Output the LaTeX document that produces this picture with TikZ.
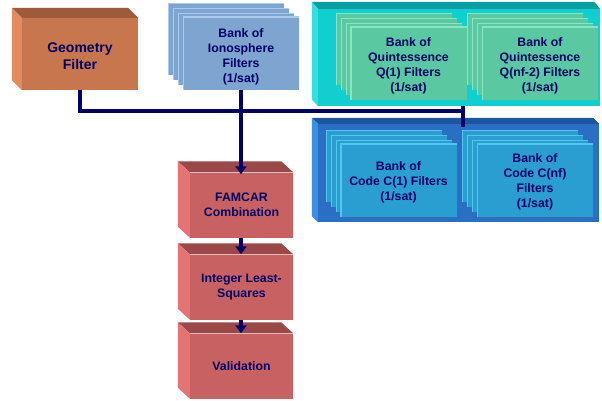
\documentclass[tikz,border=0pt]{standalone}
\usepackage{fontspec}
\setmainfont{Liberation Sans}
\usetikzlibrary{arrows.meta}
\definecolor{navy}{RGB}{0,0,102}
\definecolor{geofront}{RGB}{200,118,78}
\definecolor{geotop}{RGB}{158,91,60}
\definecolor{geoleft}{RGB}{227,138,94}
\definecolor{ionofill}{RGB}{125,165,208}
\definecolor{ionoedge}{RGB}{170,202,238}
\definecolor{qfront}{RGB}{18,207,207}
\definecolor{qtop}{RGB}{10,158,160}
\definecolor{qleft}{RGB}{51,224,224}
\definecolor{qcard}{RGB}{90,200,160}
\definecolor{qedge}{RGB}{139,229,194}
\definecolor{cfront}{RGB}{43,111,196}
\definecolor{ctop}{RGB}{29,85,160}
\definecolor{cleft}{RGB}{60,142,230}
\definecolor{ccard}{RGB}{42,158,208}
\definecolor{cedge}{RGB}{82,198,238}
\definecolor{redfront}{RGB}{200,98,98}
\definecolor{redtop}{RGB}{155,72,72}
\definecolor{redleft}{RGB}{229,115,115}
\newcommand\bevel[5]{%
  \fill[#4] ([shift={(#2,#3)}]#1.north west) -- ([shift={(#2,#3)}]#1.north east) -- (#1.north east) -- (#1.north west) -- cycle;
  \fill[#5] ([shift={(#2,#3)}]#1.north west) -- (#1.north west) -- (#1.south west) -- ([shift={(#2,#3)}]#1.south west) -- cycle;
}
\newcommand\cardstack[7]{%
  \foreach \k in {3,2,1} {
    \fill[#4] (#2-58-5*\k,#3-36-5*\k) rectangle ++(116,72);
    \draw[#5, line width=1.4pt] (#2-57.3-5*\k,#3+36-5*\k) -- (#2-57.3-5*\k,#3-35.3-5*\k) -- (#2+58-5*\k,#3-35.3-5*\k);
  }
  \node[card, fill=#4] (#1) at (#2,#3) {};
  \draw[#5, line width=1.4pt] ([shift={(0.7,0)}]#1.south west) -- ([shift={(0.7,-0.7)}]#1.north west) -- ([shift={(0,-0.7)}]#1.north east);
  \node[lbl] (#1-t) at ([yshift=-#7]#1.center) {#6};
}
\begin{document}
\begin{tikzpicture}[x=1pt,y=-1pt,
  lbl/.style={font=\fontsize{12.3}{15}\selectfont\bfseries, text=navy, align=center, inner sep=0pt},
  card/.style={inner sep=0pt, minimum width=116pt, minimum height=72pt},
  redbox/.style={lbl, fill=redfront, minimum width=103pt, minimum height=65pt},
  conn/.style={navy, line width=4pt},
  arr/.style={conn, -{Triangle[length=8pt,width=11pt]}}]
\useasboundingbox (0,0) rectangle (602,400);

% Geometry filter
\node[fill=geofront, inner sep=0pt, minimum width=116pt, minimum height=72pt] (geo) at (80,54) {};
\bevel{geo}{-10}{-10}{geotop}{geoleft}
\node[lbl, font=\fontsize{14}{16.5}\selectfont\bfseries] (geo-t) at ([yshift=-2pt]geo.center) {Geometry\\Filter};

% Ionosphere bank
\cardstack{iono}{241}{54}{ionofill}{ionoedge}{Bank of\\Ionosphere\\Filters\\(1/sat)}{3pt}

% Quintessence block
\node[fill=qfront, minimum width=282pt, minimum height=97pt, inner sep=0pt] (qblock) at (459,57.5) {};
\bevel{qblock}{-6}{-7}{qtop}{qleft}
\cardstack{q1}{408.5}{64}{qcard}{qedge}{Bank of\\Quintessence\\Q(1) Filters\\(1/sat)}{2pt}
\cardstack{qnf}{540}{64}{qcard}{qedge}{Bank of\\Quintessence\\Q(nf-2) Filters\\(1/sat)}{2pt}

% Code block
\node[fill=cfront, minimum width=281pt, minimum height=98pt, inner sep=0pt] (cblock) at (458.5,173) {};
\bevel{cblock}{-6}{-6}{ctop}{cleft}
\cardstack{c1}{398.5}{181}{ccard}{cedge}{Bank of\\Code C(1) Filters\\(1/sat)}{1pt}
\cardstack{cnf}{535}{181}{ccard}{cedge}{Bank of\\Code C(nf)\\Filters\\(1/sat)}{1pt}

% Red chain
\node[redbox] (famcar) at (241.5,205) {FAMCAR\\Combination};
\bevel{famcar}{-12}{-11}{redtop}{redleft}
\node[redbox] (ils) at (241.5,287) {Integer Least-\\Squares};
\bevel{ils}{-12}{-11}{redtop}{redleft}
\node[redbox] (val) at (241.5,366) {Validation};
\bevel{val}{-12}{-11}{redtop}{redleft}

% Connectors
\coordinate (j) at (463,111);
\draw[conn] (geo.south) |- (j);
\draw[conn] (qblock.south -| j) -- ([yshift=-3pt]cblock.north -| j);
\draw[arr, shorten >=-2pt] (iono.south) -- (iono.south |- famcar.north);
\draw[arr] (famcar.south -| iono.south) -- (ils.north -| iono.south);
\draw[arr] (ils.south -| iono.south) -- (val.north -| iono.south);
\end{tikzpicture}
\end{document}
